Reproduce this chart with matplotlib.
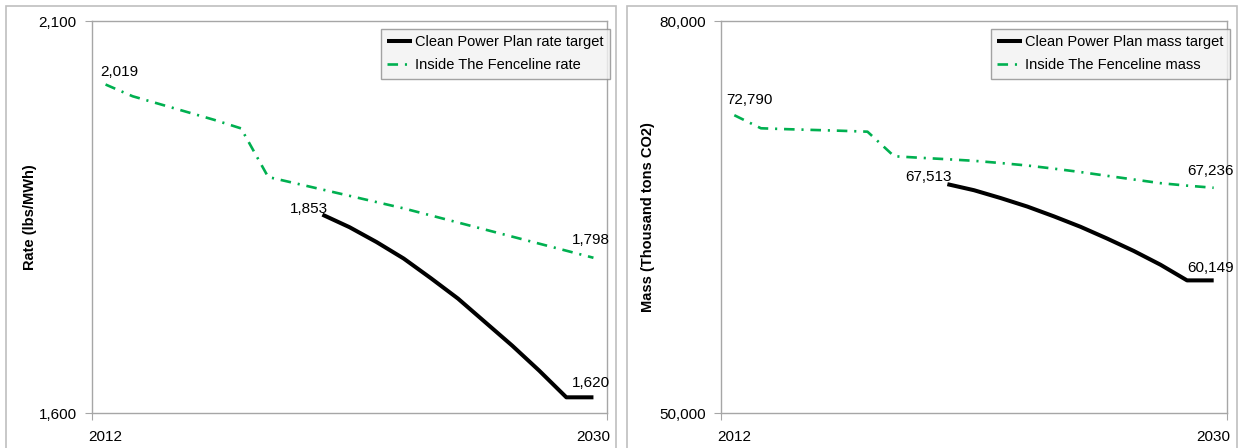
import matplotlib
matplotlib.use('Agg')
import matplotlib.pyplot as plt
from matplotlib.patches import Rectangle
import numpy as np

plt.rcParams['font.family'] = ['Liberation Sans', 'DejaVu Sans']

years = list(range(2012, 2031))

# left panel: emission rate (lbs/MWh)
rate_fenceline = [2019, 2004, 1994, 1984, 1974, 1963, 1901, 1893, 1885, 1877,
                  1869, 1861, 1852, 1843, 1834, 1825, 1816, 1807, 1798]
rate_cpp = [None] * 8 + [1853, 1837, 1818, 1797, 1772, 1746, 1716, 1686,
                         1654, 1620, 1620]

# right panel: mass (thousand tons CO2)
mass_fenceline = [72790, 71790, 71720, 71660, 71600, 71530, 69650, 69530,
                  69420, 69300, 69130, 68940, 68700, 68440, 68150, 67870,
                  67590, 67400, 67236]
mass_cpp = [None] * 8 + [67513, 67050, 66450, 65800, 65050, 64250, 63350,
                         62400, 61350, 60149, 60149]

GREEN = '#00b050'
GRAY = '#a6a6a6'


def to_arr(vals):
    return np.array([np.nan if v is None else v for v in vals], dtype=float)


def draw_panel(ax, fence, cpp, ylim, ylabel, label_x, cpp_name, fence_name,
               labels):
    x = np.arange(len(years))
    f = to_arr(fence)
    c = to_arr(cpp)
    ax.plot(x, c, color='black', lw=2.9, solid_joinstyle='round',
            solid_capstyle='butt', label=cpp_name)
    ax.plot(x, f, color=GREEN, lw=1.9, linestyle=(0, (4, 2.6, 0.8, 2.6)),
            label=fence_name)

    ax.set_xlim(-0.5, len(years) - 0.5)
    ax.set_ylim(*ylim)
    ax.set_yticks(list(ylim))
    ax.set_yticklabels(['{:,}'.format(v) for v in ylim])
    ax.set_xticks([-0.5, len(years) - 0.5])
    ax.set_xticklabels(['', ''])
    ax.set_xticks([0, len(years) - 1], minor=True)
    ax.set_xticklabels([str(years[0]), str(years[-1])], minor=True)
    ax.tick_params(axis='x', which='minor', length=0, pad=12, labelsize=11)
    ax.tick_params(axis='x', which='major', length=5, color=GRAY,
                   direction='out')
    ax.tick_params(axis='y', length=5, color=GRAY, direction='out',
                   labelsize=11, pad=6)
    for s in ax.spines.values():
        s.set_color(GRAY)
        s.set_linewidth(1.0)
    ax.set_ylabel(ylabel, fontsize=10.5, fontweight='bold', va='center')
    ax.yaxis.set_label_coords(label_x, 0.5)

    for (i, series, dx, dy, ha) in labels:
        arr = f if series == 'f' else c
        ax.annotate('{:,}'.format(int(arr[i])), (x[i], arr[i]),
                    xytext=(dx, dy), textcoords='offset points',
                    ha=ha, va='center', fontsize=11)

    leg = ax.legend(loc='upper right', bbox_to_anchor=(1.006, 0.98),
                    fontsize=10.5, frameon=True, fancybox=False,
                    handlelength=1.7, handletextpad=0.2, borderpad=0.45,
                    labelspacing=0.6, borderaxespad=0)
    leg.get_frame().set_facecolor('#f2f2f2')
    leg.get_frame().set_edgecolor('#8c8c8c')
    leg.get_frame().set_linewidth(1.0)


fig = plt.figure(figsize=(12.39, 4.48), dpi=100)

# chart-area frames
for x0, x1 in [(6, 616), (627, 1237)]:
    fig.patches.append(Rectangle((x0 / 1239, -0.05), (x1 - x0) / 1239,
                                 1.05 - 6 / 448, transform=fig.transFigure,
                                 fill=False, edgecolor='#bfbfbf', lw=1.2))

ax1 = fig.add_axes([92 / 1239, 1 - 413 / 448, (607 - 92) / 1239,
                    (413 - 21) / 448])
ax2 = fig.add_axes([721 / 1239, 1 - 413 / 448, (1227 - 721) / 1239,
                    (413 - 21) / 448])

draw_panel(ax1, rate_fenceline, rate_cpp, (1600, 2100), 'Rate (lbs/MWh)',
           -0.12, 'Clean Power Plan rate target', 'Inside The Fenceline rate',
           [(0, 'f', 10, 9, 'center'), (8, 'c', 4, 4, 'right'),
            (18, 'f', -2, 13, 'center'), (18, 'c', -2, 10, 'center')])
draw_panel(ax2, mass_fenceline, mass_cpp, (50000, 80000),
           'Mass (Thousand tons CO2)', -0.144,
           'Clean Power Plan mass target', 'Inside The Fenceline mass',
           [(0, 'f', 11, 11, 'center'), (8, 'c', 3, 5, 'right'),
            (18, 'f', -2, 12, 'center'), (18, 'c', -2, 9, 'center')])

fig.savefig('out.png', dpi=100)
